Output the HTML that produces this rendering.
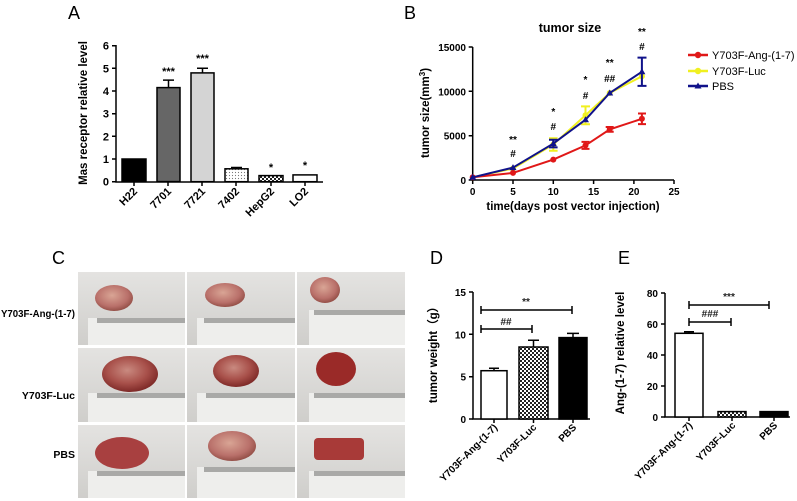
<!DOCTYPE html>
<html><head><meta charset="utf-8"><style>
body{margin:0;background:#fff}
svg{display:block}
text{font-family:"Liberation Sans",Arial,sans-serif}
</style></head><body>
<svg width="797" height="501" viewBox="0 0 797 501" xmlns="http://www.w3.org/2000/svg">
<defs>
<pattern id="dots" width="3" height="3" patternUnits="userSpaceOnUse"><rect width="3" height="3" fill="#fff"/><circle cx="1.5" cy="1.5" r="0.6" fill="#777"/></pattern>
<pattern id="chk" width="4" height="4" patternUnits="userSpaceOnUse"><rect width="4" height="4" fill="#fff"/><rect width="2" height="2" fill="#222"/><rect x="2" y="2" width="2" height="2" fill="#222"/></pattern>
<radialGradient id="tum" cx="45%" cy="40%" r="60%"><stop offset="0" stop-color="#c98a80"/><stop offset="0.6" stop-color="#a8504a"/><stop offset="1" stop-color="#7e2a28"/></radialGradient>
<radialGradient id="tum2" cx="45%" cy="40%" r="60%"><stop offset="0" stop-color="#d9a595"/><stop offset="0.7" stop-color="#b9706a"/><stop offset="1" stop-color="#955048"/></radialGradient>
<linearGradient id="bg" x1="0" y1="0" x2="0" y2="1"><stop offset="0" stop-color="#e4e3e1"/><stop offset="1" stop-color="#cfcecb"/></linearGradient>
</defs>

<!-- Panel A -->
<text x="68" y="19" font-size="18">A</text>
<g stroke="#000" stroke-width="1.5" fill="none">
<path d="M116,45 V182 H323"/>
<path d="M112,45.7H116M112,68.3H116M112,91H116M112,113.7H116M112,136.3H116M112,159H116M112,181.7H116"/>
<path d="M134,182v4M168,182v4M202,182v4M236,182v4M271,182v4M305,182v4"/>
</g>
<g font-size="11" text-anchor="end" font-weight="bold">
<text x="109" y="49.7">6</text><text x="109" y="72.3">5</text><text x="109" y="95">4</text><text x="109" y="117.7">3</text><text x="109" y="140.3">2</text><text x="109" y="163">1</text><text x="109" y="185.7">0</text>
</g>
<g stroke="#000" stroke-width="1.5">
<rect x="122" y="159" width="24" height="22.7" fill="#000"/>
<rect x="157" y="87.6" width="23" height="94" fill="#666"/>
<rect x="191" y="72.9" width="23" height="108.8" fill="#d4d4d4"/>
<rect x="225" y="168.8" width="23" height="12.9" fill="url(#dots)"/>
<rect x="259" y="175.6" width="24" height="6.1" fill="url(#chk)"/>
<rect x="293" y="174.9" width="24" height="6.8" fill="#fff"/>
<path d="M168.5,87.6V80.1M163,80.1H174M202.5,72.9V68.3M197,68.3H208M236.5,168.8V167.5M231,167.5H242" fill="none"/>
</g>
<g font-size="11" font-weight="bold" text-anchor="middle">
<text x="168.5" y="75">***</text><text x="202.5" y="62">***</text><text x="271" y="171">*</text><text x="305" y="169">*</text>
</g>
<g font-size="11" font-weight="bold" text-anchor="end">
<text transform="translate(138,192) rotate(-45)">H22</text>
<text transform="translate(172,192) rotate(-45)">7701</text>
<text transform="translate(206,192) rotate(-45)">7721</text>
<text transform="translate(240,192) rotate(-45)">7402</text>
<text transform="translate(275,192) rotate(-45)">HepG2</text>
<text transform="translate(309,192) rotate(-45)">LO2</text>
</g>
<text transform="translate(87,113) rotate(-90)" font-size="11.5" font-weight="bold" text-anchor="middle">Mas receptor relative level</text>

<!-- Panel B -->
<text x="404" y="19" font-size="18">B</text>
<text x="570" y="32" font-size="12.5" font-weight="bold" text-anchor="middle">tumor size</text>
<g stroke="#000" stroke-width="1.5" fill="none">
<path d="M472.7,47V180H674"/>
<path d="M468.7,47H472.7M468.7,91.3H472.7M468.7,135.7H472.7M468.7,180H472.7"/>
<path d="M472.7,180v4M513,180v4M553.3,180v4M593.6,180v4M633.9,180v4M674,180v4"/>
</g>
<g font-size="10" font-weight="bold" text-anchor="end">
<text x="466" y="51">15000</text><text x="466" y="95.3">10000</text><text x="466" y="139.7">5000</text><text x="466" y="184">0</text>
</g>
<g font-size="10" font-weight="bold" text-anchor="middle">
<text x="472.7" y="195">0</text><text x="513" y="195">5</text><text x="553.3" y="195">10</text><text x="593.6" y="195">15</text><text x="633.9" y="195">20</text><text x="674" y="195">25</text>
</g>
<text x="573" y="210" font-size="11.5" font-weight="bold" text-anchor="middle">time(days post vector injection)</text>
<text transform="translate(429,113) rotate(-90)" font-size="11.5" font-weight="bold" text-anchor="middle">tumor size(mm<tspan font-size="8" dy="-4">3</tspan><tspan dy="4">)</tspan></text>
<g stroke="#f0f020" stroke-width="2" fill="none">
<polyline points="472.7,177.3 513,168.5 553.3,144.5 585.5,115.3 609.7,93 641.9,76.3"/>
<path d="M553.3,138.3V150.7M585.5,106.4V124.2M641.9,70V82M549,138.3h8.6M549,150.7h8.6M581,106.4h9M581,124.2h9"/>
</g>
<g fill="#f0f020"><circle cx="513" cy="168.5" r="3"/><circle cx="553.3" cy="144.5" r="3"/><circle cx="585.5" cy="115.3" r="3"/><circle cx="609.7" cy="93" r="3"/><circle cx="641.9" cy="76.3" r="3"/></g>
<g stroke="#e01818" stroke-width="2" fill="none">
<polyline points="472.7,177.3 513,172.9 553.3,159.6 585.5,145.4 609.7,129.4 641.9,118.8"/>
<path d="M585.5,141.9V148.9M609.7,127V131.8M641.9,113.5V124.1M581.5,141.9h8M581.5,148.9h8M605.7,127h8M605.7,131.8h8M638,113.5h8M638,124.1h8"/>
</g>
<g fill="#e01818"><circle cx="472.7" cy="177.3" r="3"/><circle cx="513" cy="172.9" r="3"/><circle cx="553.3" cy="159.6" r="3"/><circle cx="585.5" cy="145.4" r="3"/><circle cx="609.7" cy="129.4" r="3"/><circle cx="641.9" cy="118.8" r="3"/></g>
<g stroke="#10128a" stroke-width="2" fill="none">
<polyline points="472.7,177.3 513,167.6 553.3,143.6 585.5,119.7 609.7,93 641.9,71.8"/>
<path d="M553.3,139.8V147.4M641.9,57.6V85.9M549,139.8h8.6M549,147.4h8.6M637.5,57.6h9M637.5,85.9h9"/>
</g>
<g fill="#10128a">
<path d="M472.7,173.8l3.5,6h-7z M513,164.1l3.5,6h-7z M553.3,140.1l3.5,6h-7z M585.5,116.2l3.5,6h-7z M609.7,89.5l3.5,6h-7z M641.9,68.3l3.5,6h-7z"/>
</g>
<g font-size="10" font-weight="bold" text-anchor="middle">
<text x="513" y="143">**</text><text x="513" y="157">#</text>
<text x="553.3" y="115">*</text><text x="553.3" y="130">#</text>
<text x="585.5" y="83">*</text><text x="585.5" y="99">#</text>
<text x="609.7" y="66">**</text><text x="609.7" y="82">##</text>
<text x="641.9" y="35">**</text><text x="641.9" y="50">#</text>
</g>
<g stroke-width="2.5">
<line x1="688" y1="55" x2="708" y2="55" stroke="#e01818"/><circle cx="698" cy="55" r="3.2" fill="#e01818"/>
<line x1="688" y1="71" x2="708" y2="71" stroke="#f0f020"/><circle cx="698" cy="71" r="3.2" fill="#f0f020"/>
<line x1="688" y1="86" x2="708" y2="86" stroke="#10128a"/><path d="M698,82.5l3.5,6h-7z" fill="#10128a"/>
</g>
<g font-size="11"><text x="712" y="59">Y703F-Ang-(1-7)</text><text x="712" y="75">Y703F-Luc</text><text x="712" y="90">PBS</text></g>

<!-- Panel C -->
<text x="52" y="264" font-size="18">C</text>
<g font-size="10.5" font-weight="bold" text-anchor="end">
<text x="75" y="317" textLength="74" lengthAdjust="spacingAndGlyphs">Y703F-Ang-(1-7)</text><text x="75" y="399">Y703F-Luc</text><text x="75" y="458">PBS</text>
</g>
<g>
<g><rect x="78" y="272" width="107" height="73" fill="url(#bg)"/><rect x="88" y="318" width="97" height="27" fill="#eeeeec"/><rect x="97" y="318" width="88" height="5" fill="#a9a9a7"/><ellipse cx="114" cy="298" rx="19" ry="13" fill="url(#tum2)"/></g>
<g><rect x="187" y="272" width="108" height="73" fill="url(#bg)"/><rect x="197" y="318" width="98" height="27" fill="#eeeeec"/><rect x="204" y="318" width="91" height="5" fill="#a9a9a7"/><ellipse cx="225" cy="295" rx="20" ry="12" fill="url(#tum2)"/></g>
<g><rect x="297" y="272" width="108" height="73" fill="url(#bg)"/><rect x="309" y="310" width="96" height="35" fill="#eeeeec"/><rect x="314" y="310" width="91" height="5" fill="#a9a9a7"/><ellipse cx="325" cy="290" rx="15" ry="13" fill="url(#tum2)"/></g>
<g><rect x="78" y="348" width="107" height="74" fill="url(#bg)"/><rect x="88" y="393" width="97" height="29" fill="#eeeeec"/><rect x="97" y="393" width="88" height="5" fill="#a9a9a7"/><ellipse cx="130" cy="374" rx="28" ry="18" fill="url(#tum)"/></g>
<g><rect x="187" y="348" width="108" height="74" fill="url(#bg)"/><rect x="197" y="393" width="98" height="29" fill="#eeeeec"/><rect x="206" y="393" width="89" height="5" fill="#a9a9a7"/><ellipse cx="236" cy="371" rx="23" ry="16" fill="url(#tum)"/></g>
<g><rect x="297" y="348" width="108" height="74" fill="url(#bg)"/><rect x="309" y="393" width="96" height="29" fill="#eeeeec"/><rect x="314" y="393" width="91" height="5" fill="#a9a9a7"/><ellipse cx="336" cy="369" rx="20" ry="17" fill="#9a2a28"/></g>
<g><rect x="78" y="425" width="107" height="73" fill="url(#bg)"/><rect x="88" y="471" width="97" height="27" fill="#eeeeec"/><rect x="97" y="471" width="88" height="5" fill="#a9a9a7"/><ellipse cx="122" cy="453" rx="27" ry="16" fill="#a84040"/></g>
<g><rect x="187" y="425" width="108" height="73" fill="url(#bg)"/><rect x="197" y="467" width="98" height="31" fill="#eeeeec"/><rect x="204" y="467" width="91" height="5" fill="#a9a9a7"/><ellipse cx="232" cy="446" rx="24" ry="15" fill="url(#tum2)"/></g>
<g><rect x="297" y="425" width="108" height="73" fill="url(#bg)"/><rect x="309" y="471" width="96" height="27" fill="#eeeeec"/><rect x="314" y="471" width="91" height="5" fill="#a9a9a7"/><rect x="314" y="438" width="50" height="22" rx="4" fill="#a83a38"/></g>
</g>

<!-- Panel D -->
<text x="430" y="264" font-size="18">D</text>
<g stroke="#000" stroke-width="1.5" fill="none">
<path d="M473,292V419H590"/>
<path d="M469,292H473M469,334.3H473M469,376.7H473M469,419H473"/>
<path d="M494,419v4M533.5,419v4M573,419v4"/>
</g>
<g font-size="10" font-weight="bold" text-anchor="end">
<text x="466" y="296">15</text><text x="466" y="338.3">10</text><text x="466" y="380.7">5</text><text x="466" y="423">0</text>
</g>
<g stroke="#000" stroke-width="1.5">
<rect x="481" y="370.7" width="26" height="48.3" fill="#fff"/>
<rect x="519" y="347" width="29" height="72" fill="url(#chk)"/>
<rect x="559" y="337.6" width="28" height="81.4" fill="#000"/>
<path d="M494,370.7v-2.5M489,368.2h10M533.5,347v-6.8M528,340.2h11M573,337.6v-4.2M567,333.4h12" fill="none"/>
<path d="M481,310H572M481,306v8M572,306v8M481,329H532M481,325v8M532,325v8" fill="none"/>
</g>
<g font-size="10" font-weight="bold" text-anchor="middle" fill="#222">
<text x="526" y="305">**</text><text x="506" y="325">##</text>
</g>
<g font-size="10" font-weight="bold" text-anchor="end">
<text transform="translate(498,428) rotate(-45)">Y703F-Ang-(1-7)</text>
<text transform="translate(537,428) rotate(-45)">Y703F-Luc</text>
<text transform="translate(577,428) rotate(-45)">PBS</text>
</g>
<text transform="translate(437,352) rotate(-90)" font-size="11.5" font-weight="bold" text-anchor="middle" font-family="'Liberation Sans','Noto Sans CJK SC',sans-serif">tumor weight（g）</text>

<!-- Panel E -->
<text x="618" y="264" font-size="18">E</text>
<g stroke="#000" stroke-width="1.5" fill="none">
<path d="M665,293V417H790"/>
<path d="M661,293H665M661,324H665M661,355H665M661,386H665M661,417H665"/>
<path d="M689,417v4M732,417v4M774,417v4"/>
</g>
<g font-size="10" font-weight="bold" text-anchor="end">
<text x="658" y="297">80</text><text x="658" y="328">60</text><text x="658" y="359">40</text><text x="658" y="390">20</text><text x="658" y="421">0</text>
</g>
<g stroke="#000" stroke-width="1.5">
<rect x="675" y="333.3" width="28" height="83.7" fill="#fff"/>
<rect x="718" y="411.6" width="28" height="5.4" fill="url(#chk)"/>
<rect x="760" y="411.6" width="28" height="5.4" fill="#000"/>
<path d="M689,333.3v-1.5M684,331.8h10" fill="none"/>
<path d="M689,305H769M689,301v8M769,301v8M689,322H731M689,318v8M731,318v8" fill="none"/>
</g>
<g font-size="10" font-weight="bold" text-anchor="middle" fill="#222">
<text x="729" y="300">***</text><text x="710" y="317">###</text>
</g>
<g font-size="10" font-weight="bold" text-anchor="end">
<text transform="translate(693,426) rotate(-45)">Y703F-Ang-(1-7)</text>
<text transform="translate(736,426) rotate(-45)">Y703F-Luc</text>
<text transform="translate(778,426) rotate(-45)">PBS</text>
</g>
<text transform="translate(624,353) rotate(-90)" font-size="11.5" font-weight="bold" text-anchor="middle">Ang-(1-7) relative level</text>
</svg>
</body></html>
